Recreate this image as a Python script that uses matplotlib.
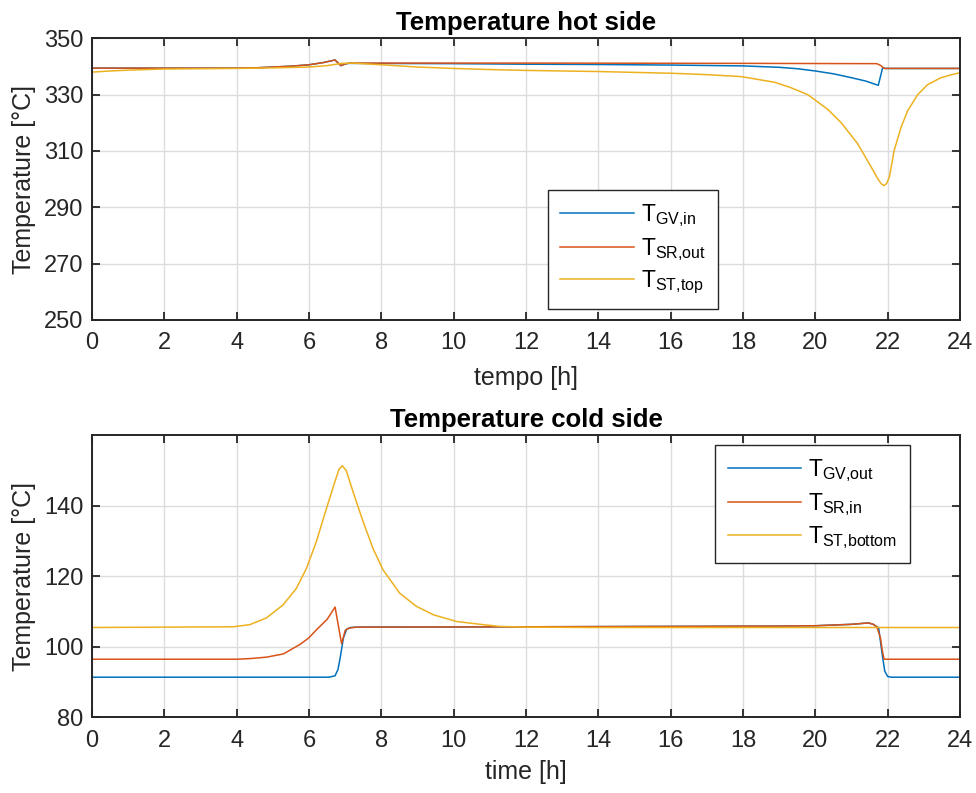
import numpy as np
import matplotlib
matplotlib.use('Agg')
import matplotlib.pyplot as plt

# ---- hot side ----
t_gv_in = [0, 4, 4.5, 5, 5.5, 6, 6.4, 6.72, 6.88, 7.0, 7.1, 10, 12, 14, 16, 18, 19, 19.5,
           20, 20.5, 21, 21.4, 21.74, 21.86, 21.95, 24]
gv_in = [339.4, 339.4, 339.5, 339.8, 340.1, 340.6, 341.4, 342.3, 340.3, 340.9, 341.1, 341.0,
         340.8, 340.7, 340.5, 340.2, 339.7, 339.2, 338.4, 337.4, 336.0, 334.8, 333.3, 339.5,
         339.3, 339.3]

t_sr_out = [0, 4, 4.5, 5, 5.5, 6, 6.4, 6.72, 6.88, 7.0, 7.1, 12, 18, 21.7, 21.8, 21.91, 24]
sr_out = [339.4, 339.4, 339.5, 339.8, 340.1, 340.6, 341.4, 342.3, 340.3, 340.9, 341.2, 341.2,
          341.1, 341.0, 340.4, 339.3, 339.3]

t_st_top = [0, 0.5, 1, 2, 3, 4, 5, 6, 6.5, 6.9, 7.2, 8, 9, 10, 11, 12, 14, 16, 17, 17.95,
            18.87, 19.3, 19.79, 20.34, 20.71, 21.17, 21.54, 21.72, 21.82, 21.89, 21.97,
            22.05, 22.18, 22.37, 22.55, 22.83, 23.1, 23.47, 23.75, 24]
st_top = [338.0, 338.4, 338.7, 339.1, 339.2, 339.3, 339.5, 339.8, 340.3, 341.1, 341.2, 340.6,
          339.8, 339.3, 338.9, 338.6, 338.2, 337.6, 337.1, 336.4, 334.4, 332.6, 330.0, 324.8,
          320.1, 312.6, 304.4, 300.3, 298.4, 297.7, 298.4, 300.9, 310.2, 318.4, 324.2, 330.0,
          333.5, 336.0, 337.0, 337.8]

# ---- cold side ----
t_gv_out = [0, 6.55, 6.72, 6.8, 6.86, 6.95, 7.04, 7.15, 7.3, 12, 19, 20, 21, 21.47, 21.6,
            21.75, 21.85, 21.92, 22.0, 22.1, 24]
gv_out = [91.3, 91.3, 91.7, 93.5, 96.7, 102.4, 104.9, 105.4, 105.5, 105.6, 105.8, 105.9,
          106.3, 106.7, 106.3, 105.3, 97.7, 93.0, 91.5, 91.3, 91.3]

t_sr_in = [0, 4, 4.4, 4.83, 5.29, 5.75, 6.0, 6.22, 6.5, 6.72, 6.9, 7.0, 7.1, 7.3, 12, 19,
           20, 21, 21.47, 21.6, 21.7, 21.8, 21.85, 21.9, 24]
sr_in = [96.4, 96.4, 96.6, 97.0, 97.9, 100.6, 102.5, 104.9, 107.7, 111.2, 100.8, 104.6, 105.2,
         105.5, 105.6, 105.8, 105.9, 106.3, 106.7, 106.3, 105.6, 102.5, 99.0, 96.4, 96.4]

t_st_bot = [0, 3.9, 4.36, 4.82, 5.28, 5.65, 5.93, 6.2, 6.48, 6.71, 6.83, 6.92, 7.03, 7.22,
            7.5, 7.77, 8.05, 8.51, 8.97, 9.44, 10.08, 10.82, 11.28, 12, 14, 24]
st_bot = [105.4, 105.6, 106.2, 108.1, 111.8, 116.5, 122.2, 129.7, 139.1, 146.6, 150.3,
          151.3, 149.9, 143.8, 135.3, 127.8, 121.7, 115.1, 111.4, 109.0, 107.1, 106.2,
          105.7, 105.5, 105.4, 105.4]

x_ticks = list(range(0, 25, 2))

c_blue = '#0072BD'
c_red = '#D95319'
c_yel = '#EDB120'


def style_axes(ax):
    ax.set_xlim(0, 24)
    ax.set_xticks(x_ticks)
    ax.grid(True, color='#dcdcdc', linewidth=1.0)
    ax.set_axisbelow(True)
    ax.tick_params(direction='in', length=6, width=1.3, top=True, right=True,
                   labelsize=17, colors='#262626')
    ax.tick_params(axis='x', pad=9)
    ax.tick_params(axis='y', pad=6)
    for s in ax.spines.values():
        s.set_linewidth(1.4)
        s.set_color('#262626')


def add_legend(ax, anchor):
    leg = ax.legend(loc='upper left', bbox_to_anchor=anchor, fontsize=16.5,
                    handlelength=3.2, handletextpad=0.3, borderaxespad=0,
                    borderpad=0.55, labelspacing=0.28, fancybox=False, framealpha=1)
    leg.get_frame().set_edgecolor('#262626')
    leg.get_frame().set_linewidth(1.0)


def main():
    plt.rcParams['font.family'] = 'Liberation Sans'
    plt.rcParams['mathtext.default'] = 'regular'

    fig = plt.figure(figsize=(9.76, 7.93), dpi=100)
    ax1 = fig.add_axes([0.0943, 0.5965, 0.8893, 0.3552])
    ax2 = fig.add_axes([0.0943, 0.0958, 0.8893, 0.3556])

    ax1.plot(t_gv_in, gv_in, color=c_blue, linewidth=1.1, label='T$_{GV{,}in}$')
    ax1.plot(t_sr_out, sr_out, color=c_red, linewidth=1.1, label='T$_{SR{,}out}$')
    ax1.plot(t_st_top, st_top, color=c_yel, linewidth=1.1, label='T$_{ST{,}top}$')
    style_axes(ax1)
    ax1.set_ylim(250, 350)
    ax1.set_yticks([250, 270, 290, 310, 330, 350])
    ax1.set_title('Temperature hot side', fontsize=18.5, fontweight='bold', pad=6)
    ax1.set_xlabel('tempo [h]', fontsize=18, color='#262626', labelpad=8)
    ax1.set_ylabel('Temperature [°C]', fontsize=18, color='#262626', labelpad=6)
    add_legend(ax1, (0.525, 0.4615))

    ax2.plot(t_gv_out, gv_out, color=c_blue, linewidth=1.1, label='T$_{GV{,}out}$')
    ax2.plot(t_sr_in, sr_in, color=c_red, linewidth=1.1, label='T$_{SR{,}in}$')
    ax2.plot(t_st_bot, st_bot, color=c_yel, linewidth=1.1, label='T$_{ST{,}bottom}$')
    style_axes(ax2)
    ax2.set_ylim(80, 160)
    ax2.set_yticks([80, 100, 120, 140])
    ax2.set_title('Temperature cold side', fontsize=18.5, fontweight='bold', pad=6)
    ax2.set_xlabel('time [h]', fontsize=18, color='#262626', labelpad=6)
    ax2.set_ylabel('Temperature [°C]', fontsize=18, color='#262626', labelpad=6)
    add_legend(ax2, (0.718, 0.965))

    fig.savefig('out.png', dpi=100)


if __name__ == '__main__':
    main()
